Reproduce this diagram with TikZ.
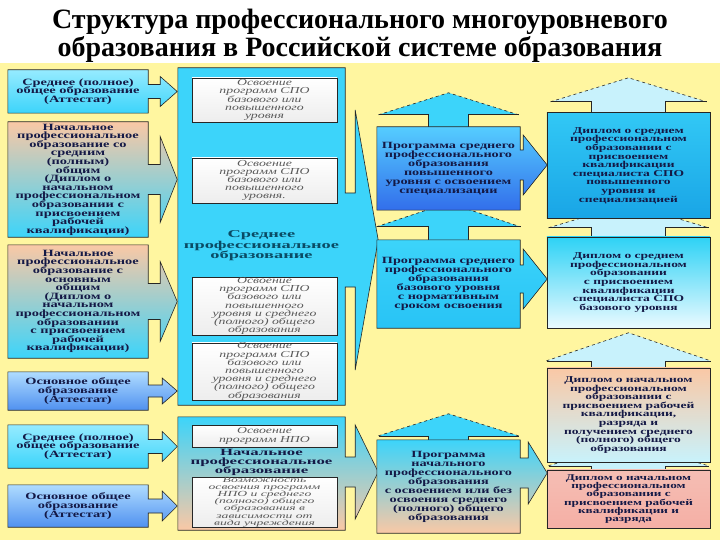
\documentclass[tikz,border=0pt]{standalone}
\usepackage{fontspec}
\setmainfont{Liberation Serif}
\newfontfamily\widefont{Liberation Serif}[FakeStretch=1.5]
\newfontfamily\widerfont{Liberation Serif}[FakeStretch=1.75]
\usetikzlibrary{calc, positioning}
\pgfdeclarelayer{back}
\pgfdeclarelayer{mid}
\pgfsetlayers{back,mid,main}

\definecolor{bgyellow}{RGB}{255,246,160}
\definecolor{cyanlt}{RGB}{150,235,255}
\definecolor{cyanmd}{RGB}{60,212,250}
\definecolor{peach}{RGB}{250,200,165}
\definecolor{bluelt}{RGB}{175,220,255}
\definecolor{bluedk}{RGB}{80,145,240}
\definecolor{navy}{RGB}{20,25,70}
\definecolor{tealtxt}{RGB}{10,75,100}
\definecolor{pinkbox}{RGB}{245,190,180}
\definecolor{palecyan}{RGB}{200,242,252}

\newcommand{\tightlines}{\lineskiplimit=-20pt\relax}

\tikzset{
outline/.style={draw=black!85, line width=0.6pt}, % border of every box and block arrow
boxtext/.style={align=center, inner sep=0pt, text=navy}, % text only, the shape is drawn on a layer below
leftbox/.style={boxtext, minimum width=140pt, font=\widefont\bfseries\fontsize{9.6}{8.6}\selectfont\tightlines}, % left column
bodybox/.style={boxtext, minimum width=167pt}, % the two big blocks in the middle
innerbox/.style={outline, top color=white, bottom color=black!7, align=center, inner sep=0pt,
  minimum width=145pt, text=black!65, font=\widefont\itshape\fontsize{9.2}{8.2}\selectfont\tightlines}, % white boxes inside the blocks
headtext/.style={align=center, font=\widerfont\bfseries\fontsize{10.5}{10.5}\selectfont\tightlines}, % block titles
progbox/.style={boxtext, minimum width=143pt, font=\widefont\bfseries\fontsize{9.5}{9}\selectfont\tightlines}, % programmes
diplbox/.style={boxtext, minimum width=163pt, font=\widefont\bfseries\fontsize{9}{8.6}\selectfont\tightlines}, % diplomas
}

% box with a block arrow on its right side
\newcommand{\calloutright}[7]{%
  \path[#7] (#1.north west) -- (#1.north east)
    -- ($(#2)+(0,-#4)$) -- ++(#3,0) -- ++(0,{#4-#6}) -- ++(#5,#6) -- ++(-#5,#6)
    -- ++(0,{#4-#6}) -- ++(-#3,0) -- (#1.south east) -- (#1.south west) -- cycle;}
% block arrow going up from the top of a box
\newcommand{\upblock}[6]{%
  \fill[#6] ($(#1.north)+(-#3,0)$) -- ++(0,-#2) -- ++({#3-#5},0) -- ++(#5,-#4)
    -- ++(#5,#4) -- ++({#3-#5},0) -- ++(0,#2) -- cycle;
  \draw[outline] ($(#1.north)+(-#3,0)$) -- ++(0,-#2) -- ++({#3-#5},0)
    ($(#1.north)+(#3,0)$) -- ++(0,-#2) -- ++({#5-#3},0);
  \draw[outline, dashed] ($(#1.north)+(-#5,-#2)$) -- ++(#5,-#4) -- ++(#5,#4);}

\begin{document}
\begin{tikzpicture}[x=1pt, y=-1pt]
\useasboundingbox (0,0) rectangle (720,540);

\node[align=center, font=\bfseries\fontsize{28}{28}\selectfont] (title) at (360,36)
  {Структура профессионального многоуровневого\\образования в Российской системе образования};

% left column
\node[leftbox, minimum height=43pt] (l1) at (78,91.5) {Среднее (полное)\\общее образование\\(Аттестат)};
\node[leftbox, minimum height=115pt] (l2) at (78,179.5) {Начальное\\профессиональное\\образование со\\средним\\(полным)\\общим\\(Диплом о\\начальном\\профессиональном\\образовании с\\присвоением\\рабочей\\квалификации)};
\node[leftbox, minimum height=113pt] (l3) at (78,301.5) {Начальное\\профессиональное\\образование с\\основным\\общим\\(Диплом о\\начальном\\профессиональном\\образовании\\с присвоением\\рабочей\\квалификации)};
\node[leftbox, minimum height=38pt] (l4) at (78,391) {Основное общее\\образование\\(Аттестат)};
\node[leftbox, minimum height=43pt] (l5) at (78,446.5) {Среднее (полное)\\общее образование\\(Аттестат)};
\node[leftbox, minimum height=42pt] (l6) at (78,506) {Основное общее\\образование\\(Аттестат)};

% middle column
\node[bodybox, minimum height=337pt] (spo) at (261.5,236.5) {};
\node[innerbox, minimum height=44pt] (s1) at (264.5,100) {Освоение\\программ СПО\\базового или\\повышенного\\уровня};
\node[innerbox, minimum height=45pt] (s2) at (264.5,180.5) {Освоение\\программ СПО\\базового или\\повышенного\\уровня.};
\node[headtext, text=tealtxt] (spohead) at (261.5,246) {Среднее\\профессиональное\\образование};
\node[innerbox, minimum height=58pt] (s3) at (264.5,306) {Освоение\\программ СПО\\базового или\\повышенного\\уровня и среднего\\(полного) общего\\образования};
\node[innerbox, minimum height=57pt] (s4) at (264.5,371.5) {Освоение\\программ СПО\\базового или\\повышенного\\уровня и среднего\\(полного) общего\\образования};

\node[bodybox, minimum height=113pt] (npo) at (261.5,473.5) {};
\node[innerbox, minimum height=22pt] (n1) at (264.5,436) {Освоение\\программ НПО};
\node[headtext, text=navy, font=\widerfont\bfseries\fontsize{9.6}{9}\selectfont\tightlines] (npohead) at (261.5,462) {Начальное\\профессиональное\\образование};
\node[innerbox, minimum height=50pt, font=\widerfont\itshape\fontsize{7.8}{7.2}\selectfont\tightlines] (n2) at (264.5,502) {Возможность\\освоения программ\\НПО и среднего\\(полного) общего\\образования в\\зависимости от\\вида учреждения};

% programmes
\node[progbox, minimum height=83pt] (c1) at (448.5,168.5) {Программа среднего\\профессионального\\образования\\повышенного\\уровня с освоением\\специализации};
\node[progbox, minimum height=88pt] (c2) at (448.5,284) {Программа среднего\\профессионального\\образования\\базового уровня\\с нормативным\\сроком освоения};
\node[progbox, minimum height=93pt] (c3) at (448.5,486.5) {Программа\\начального\\профессионального\\образования\\с освоением или без\\освоения среднего\\(полного) общего\\образования};

% diplomas
\node[diplbox, minimum height=105pt] (r1) at (628.5,165.5) {Диплом о среднем\\профессиональном\\образовании с\\присвоением\\квалификации\\специалиста СПО\\повышенного\\уровня и\\специализацией};
\node[diplbox, minimum height=91pt] (r2) at (628.5,282.5) {Диплом о среднем\\профессиональном\\образовании\\с присвоением\\квалификации\\специалиста СПО\\базового уровня};
\node[diplbox, minimum height=94pt] (r3) at (628.5,415) {Диплом о начальном\\профессиональном\\образовании с\\присвоением рабочей\\квалификации,\\разряда и\\получением среднего\\(полного) общего\\образования};
\node[diplbox, minimum height=58pt, font=\widefont\bfseries\fontsize{8.8}{8.2}\selectfont\tightlines] (r4) at (628.5,499) {Диплом о начальном\\профессиональном\\образовании с\\присвоением рабочей\\квалификации и\\разряда};

\coordinate (spoa) at ($(spo.east)+(0,3.5)$);
\coordinate (npoa) at ($(npo.east)+(0,-1.5)$);
\coordinate (c1a) at ($(c1.east)+(0,-3.5)$);
\coordinate (c2a) at ($(c2.east)+(0,-5)$);
\coordinate (c3a) at ($(c3.east)+(0,-13.5)$);

\begin{pgfonlayer}{back}
  \fill[bgyellow] (0,63) rectangle (720,540);
  \upblock{c1}{12}{20}{22}{70}{cyanmd}
  \upblock{c2}{13}{20}{24}{72}{cyanmd}
  \upblock{c3}{4}{20}{22}{70}{cyanmd}
  \upblock{r1}{11}{37}{24}{78}{palecyan}
  \upblock{r2}{9}{37}{24}{80}{palecyan}
  \upblock{r3}{7}{37}{28}{82}{palecyan}
  \upblock{r4}{4}{37}{24}{80}{palecyan}
\end{pgfonlayer}

\begin{pgfonlayer}{mid}
  \calloutright{l1}{l1.east}{12}{7}{17}{15}{outline, top color=cyanlt, bottom color=cyanmd}
  \calloutright{l2}{l2.east}{12}{15}{17}{43}{outline, top color=peach, bottom color=cyanmd}
  \calloutright{l3}{l3.east}{12}{18}{17}{40}{outline, top color=peach, bottom color=cyanmd}
  \calloutright{l4}{l4.east}{14}{6}{15}{13}{outline, top color=bluelt, bottom color=bluedk}
  \calloutright{l5}{l5.east}{14}{7}{15}{15}{outline, top color=cyanlt, bottom color=cyanmd}
  \calloutright{l6}{l6.east}{14}{7}{15}{15}{outline, top color=bluelt, bottom color=bluedk}
  \calloutright{spo}{spoa}{10}{47}{23}{130}{outline, fill=cyanmd}
  \calloutright{npo}{npoa}{10}{15}{23}{47}{outline, top color=cyanmd, bottom color=peach}
  \calloutright{c1}{c1a}{3}{15}{24}{30}{outline, top color={rgb,255:red,85;green,205;blue,255}, bottom color={rgb,255:red,50;green,110;blue,235}}
  \calloutright{c2}{c2a}{3}{14}{24}{30}{outline, top color=cyanmd, bottom color={rgb,255:red,40;green,195;blue,245}}
  \calloutright{c3}{c3a}{8}{15}{19}{31}{outline, top color=cyanmd, bottom color=peach}
  \path[outline, top color={rgb,255:red,50;green,200;blue,245}, bottom color={rgb,255:red,25;green,165;blue,230}] (r1.north west) rectangle (r1.south east);
  \path[outline, top color={rgb,255:red,45;green,210;blue,245}, bottom color={rgb,255:red,235;green,250;blue,255}] (r2.north west) rectangle (r2.south east);
  \path[outline, top color=peach, bottom color=palecyan] (r3.north west) rectangle (r3.south east);
  \path[outline, top color=pinkbox, bottom color={rgb,255:red,245;green,175;blue,165}] (r4.north west) rectangle (r4.south east);
\end{pgfonlayer}
\end{tikzpicture}
\end{document}
